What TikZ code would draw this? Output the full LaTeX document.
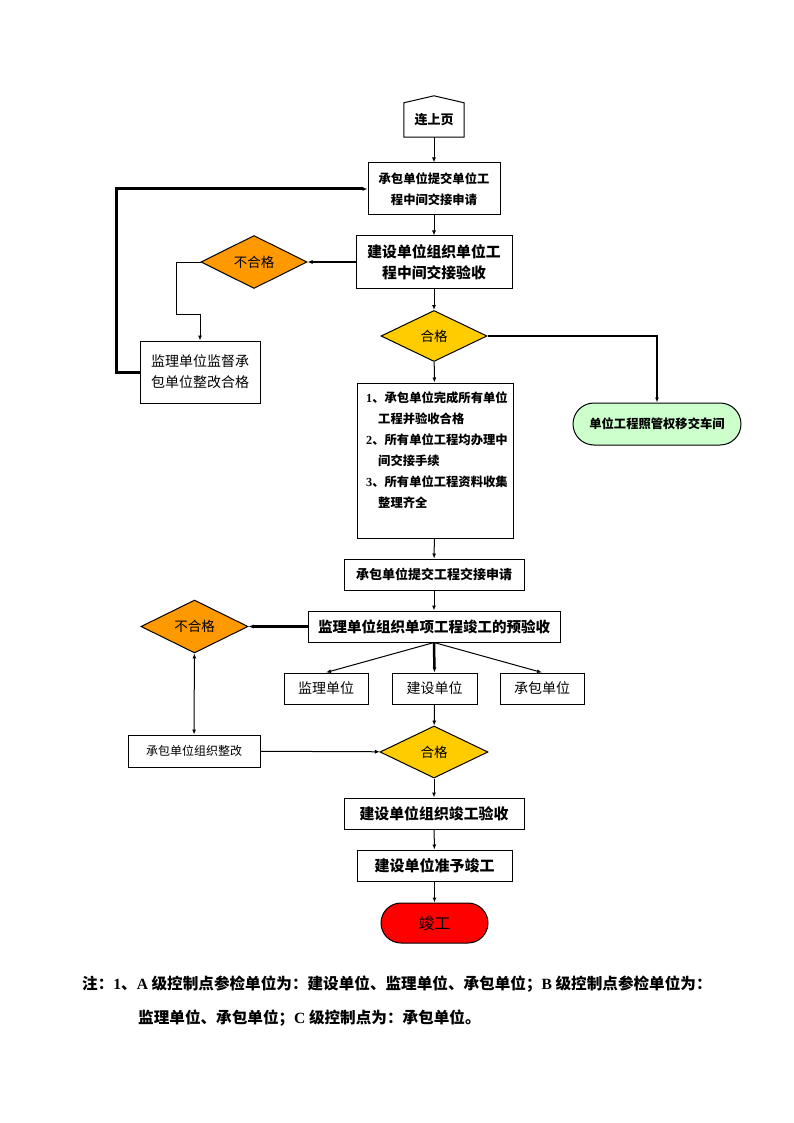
\documentclass[tikz,border=0pt]{standalone}
\usepackage{fontspec}
\setmainfont{Noto Sans CJK SC}
\newfontfamily\latfont{Liberation Serif}
\usetikzlibrary{shapes.geometric,arrows.meta,calc}

\definecolor{failorange}{HTML}{FF9900}
\definecolor{passyellow}{HTML}{FFCC00}
\definecolor{handgreen}{HTML}{CCFFCC}
\definecolor{endred}{HTML}{FF0000}

\newcommand{\fsz}[1]{\fontsize{#1}{21}\selectfont}

\begin{document}
\begin{tikzpicture}[x=1pt,y=-1pt,
  box/.style={draw,line width=1pt,inner sep=0pt,align=center},
  check/.style={draw,line width=1pt,shape=diamond,inner sep=0pt,
    minimum width=106pt,minimum height=51pt,font=\fsz{13.5}},
  arr/.style={line width=1pt,-{Latex[length=5pt,width=4pt]}},
  fat/.style={line width=2.5pt}]

% page frame
\useasboundingbox (0,0) rectangle (794,1123);

% first part: handover of the unit works
\node[inner sep=0pt,minimum width=60pt,minimum height=34pt,font=\bfseries\fsz{13}] (prev) at (434,120) {连上页};
\draw[line width=1pt] (prev.south west) -- (prev.north west) -- ($(prev.north)+(0,-7)$)
  -- (prev.north east) -- (prev.south east) -- cycle;

\node[box,minimum width=132pt,minimum height=52pt,font=\bfseries\fsz{12.3}] (apply) at (434,189)
  {承包单位提交单位工\\程中间交接申请};
\node[box,minimum width=156pt,minimum height=52pt,font=\bfseries\fsz{14.8}] (accept) at (434,262)
  {建设单位组织单位工\\程中间交接验收};
\node[check,fill=failorange] (fail1) at (254,262) {不合格};
\node[box,minimum width=120pt,minimum height=62pt,font=\fsz{14}] (rework1) at (200,372)
  {监理单位监督承\\包单位整改合格};
\node[check,fill=passyellow] (pass1) at (434,336) {合格};
\node[draw,line width=1pt,fill=handgreen,rounded corners=21pt,minimum width=168pt,
  minimum height=42pt,inner sep=0pt,font=\bfseries\fsz{12.3}] (handover) at (657,424)
  {单位工程照管权移交车间};

% conditions
\node[box,minimum width=156pt,minimum height=155pt] (cond) at (435,460.5) {};
\node[anchor=north west,inner sep=0pt,align=left,font=\bfseries\fsz{12.3}] (condtext) at (366,392)
  {{\latfont 1}、承包单位完成所有单位\\\hspace*{12pt}工程并验收合格\\
   {\latfont 2}、所有单位工程均办理中\\\hspace*{12pt}间交接手续\\
   {\latfont 3}、所有单位工程资料收集\\\hspace*{12pt}整理齐全};

% second part: completion
\node[box,minimum width=180pt,minimum height=31pt,font=\bfseries\fsz{13}] (submit) at (434,574.5)
  {承包单位提交工程交接申请};
\node[box,minimum width=252pt,minimum height=31pt,font=\bfseries\fsz{14.5}] (precheck) at (434,626.5)
  {监理单位组织单项工程竣工的预验收};
\node[check,fill=failorange,minimum width=107pt] (fail2) at (194.5,626.5) {不合格};
\node[box,minimum width=84pt,minimum height=31pt,font=\fsz{14}] (unitA) at (326,688.5) {监理单位};
\node[box,minimum width=85pt,minimum height=31pt,font=\fsz{14}] (unitB) at (434.5,688.5) {建设单位};
\node[box,minimum width=84pt,minimum height=31pt,font=\fsz{14}] (unitC) at (542,688.5) {承包单位};
\node[check,fill=passyellow,minimum width=108pt,minimum height=52pt] (pass2) at (434,752) {合格};
\node[box,minimum width=132pt,minimum height=32pt,font=\fsz{12}] (rework2) at (194,751)
  {承包单位组织整改};
\node[box,minimum width=180pt,minimum height=31pt,font=\bfseries\fsz{14.9}] (final) at (434,813.5)
  {建设单位组织竣工验收};
\node[box,minimum width=155pt,minimum height=31pt,font=\bfseries\fsz{15}] (permit) at (434.5,865.5)
  {建设单位准予竣工};
\node[draw,line width=1pt,fill=endred,rounded corners=20pt,minimum width=107pt,
  minimum height=40pt,inner sep=0pt,font=\fsz{16}] (done) at (434.5,923) {竣工};

% connectors
\draw[arr] (prev) -- (apply);
\draw[arr] (apply) -- (accept);
\draw[arr,fat] (accept) -- (fail1);
\draw[arr] (fail1.west) -| (176,314) -| (rework1.north);
\draw[arr,line width=3pt] (rework1.west) -| (116,189) -- (apply.west);
\draw[arr] (accept) -- (pass1);
\draw[arr,line width=2pt] (pass1.east) -| (handover.north);
\draw[arr] (pass1) -- (cond);
\draw[arr] (cond) -- (submit);
\draw[arr] (submit) -- (precheck);
\draw[arr,fat] (precheck) -- (fail2);
\draw[arr] (precheck.south) -- (unitA.north);
\draw[arr,fat] (precheck.south) -- (unitB.north);
\draw[arr] (precheck.south) -- (unitC.north);
\draw[line width=1pt,{Latex[length=5pt,width=4pt]}-{Latex[length=5pt,width=4pt]}] (fail2) -- (rework2);
\draw[arr] (unitB) -- (pass2);
\draw[arr] (rework2) -- (pass2);
\draw[arr] (pass2) -- (final);
\draw[arr] (final) -- (permit);
\draw[arr] (permit) -- (done);

% note
\node[anchor=west,inner sep=0pt,font=\bfseries\fsz{15.6}] (note1) at (82,984)
  {注：{\latfont 1}、{\latfont A} 级控制点参检单位为：建设单位、监理单位、承包单位；{\latfont B} 级控制点参检单位为：};
\node[anchor=west,inner sep=0pt,font=\bfseries\fsz{15.6}] (note2) at (138,1018)
  {监理单位、承包单位；{\latfont C} 级控制点为：承包单位。};

\end{tikzpicture}
\end{document}
